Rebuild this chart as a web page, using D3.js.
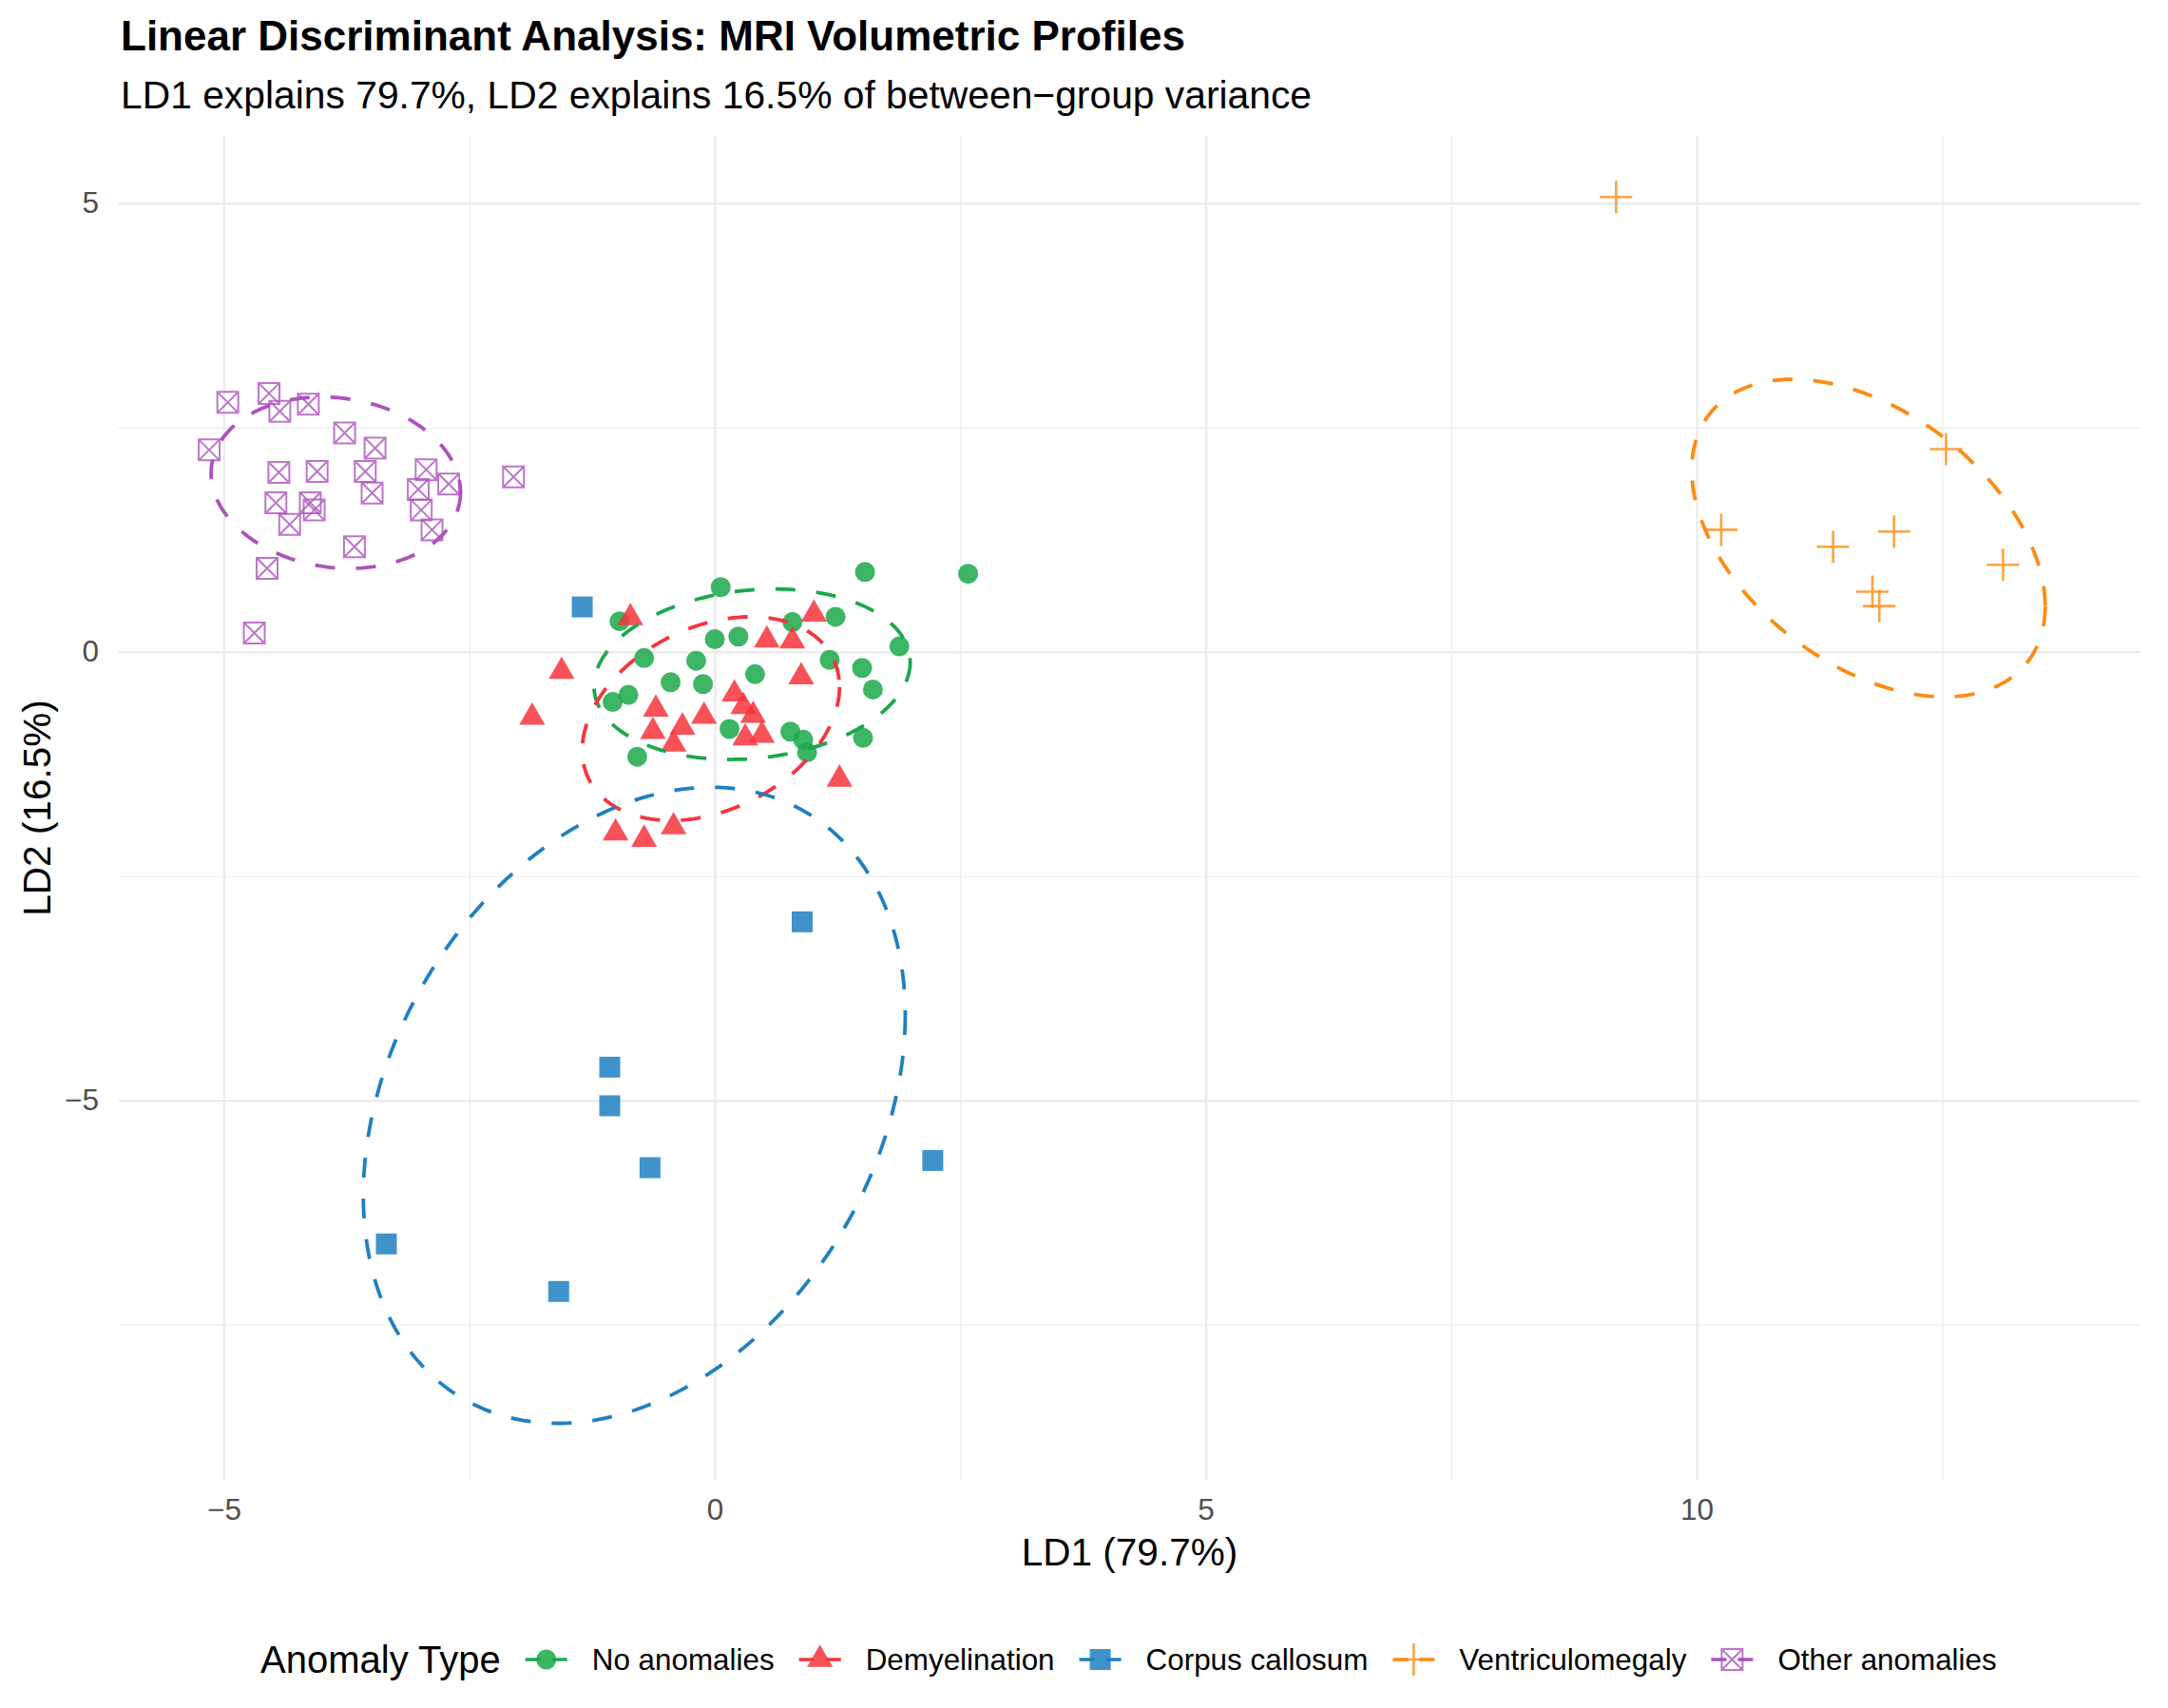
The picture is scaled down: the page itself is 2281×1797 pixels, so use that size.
<!DOCTYPE html>
<html>
<head>
<meta charset="utf-8">
<script src="https://cdn.jsdelivr.net/npm/d3@7"></script>
<style>
  body { margin: 0; background: #fff; }
  text { font-family: "Liberation Sans", Arial, Helvetica, sans-serif; }
</style>
</head>
<body>
<div id="chart"></div>
<script>
// groups, in legend order
const groups = ["No anomalies", "Demyelination", "Corpus callosum", "Ventriculomegaly", "Other anomalies"];
const groupColors = ["#1aa84a", "#f7333b", "#1f80c1", "#ff8a12", "#ac52bc"];

// LD1 / LD2 scores
const noAnomalies = [
  [1.53, 0.89], [2.58, 0.87], [0.06, 0.72], [-0.97, 0.34], [0.79, 0.33], [1.23, 0.39],
  [0.0, 0.14], [0.24, 0.17], [-0.72, -0.07], [-0.19, -0.10], [1.88, 0.06], [1.17, -0.09],
  [1.5, -0.18], [0.41, -0.25], [-0.45, -0.34], [-0.12, -0.36], [1.61, -0.42], [-0.88, -0.48],
  [-1.04, -0.56], [0.15, -0.86], [0.77, -0.89], [0.9, -0.98], [0.94, -1.12], [1.51, -0.96],
  [-0.79, -1.17]
];
const demyelination = [
  [-0.86, 0.38], [1.01, 0.42], [0.53, 0.13], [0.79, 0.12], [-1.56, -0.22], [0.88, -0.28],
  [-1.86, -0.73], [-0.6, -0.64], [0.2, -0.47], [0.29, -0.61], [-0.11, -0.72], [-0.63, -0.89],
  [-0.33, -0.84], [-0.42, -1.03], [0.31, -0.96], [0.48, -0.93], [0.39, -0.71], [1.27, -1.42],
  [-1.01, -2.02], [-0.72, -2.09], [-0.42, -1.95]
];
const corpusCallosum = [
  [-1.35, 0.5], [0.89, -3.01], [-1.07, -4.63], [-1.07, -5.06], [-0.66, -5.75], [2.22, -5.67],
  [-3.345, -6.6], [-1.59, -7.13]
];
const ventriculomegaly = [
  [9.18, 5.07], [12.54, 2.26], [10.25, 1.36], [11.39, 1.17], [12.01, 1.34], [13.12, 0.97],
  [11.79, 0.67], [11.86, 0.51]
];
const otherAnomalies = [
  [-4.96, 2.78], [-4.54, 2.88], [-4.43, 2.68], [-4.14, 2.76], [-5.15, 2.25], [-3.77, 2.44],
  [-3.46, 2.27], [-4.44, 2.0], [-4.05, 2.01], [-3.56, 2.01], [-2.94, 2.03], [-3.02, 1.81],
  [-2.71, 1.87], [-3.49, 1.77], [-4.47, 1.66], [-4.12, 1.66], [-4.08, 1.58], [-4.33, 1.42],
  [-2.99, 1.58], [-2.88, 1.36], [-3.67, 1.17], [-4.56, 0.93], [-2.05, 1.95], [-4.69, 0.21]
];
const groupPoints = [noAnomalies, demyelination, corpusCallosum, ventriculomegaly, otherAnomalies];

// 95% ellipses: centre, half extent on each axis, and cos of the phase between them
const ellipseCx = [0.38, -0.04, -0.82, 11.75, -3.86];
const ellipseCy = [-0.25, -0.745, -5.055, 1.2675, 1.885];
const ellipseHx = [1.61, 1.31, 2.76, 1.8, 1.27];
const ellipseHy = [0.95, 1.135, 3.545, 1.77, 0.955];
const ellipseCos = [0.14, 0.31, 0.284, -0.43, -0.11];

// axes
const xLimits = [-6.07, 14.52];
const yLimits = [-9.23, 5.75];
const xMajorTicks = [-5, 0, 5, 10];
const xMinorTicks = [-2.5, 2.5, 7.5, 12.5];
const yMajorTicks = [-5, 0, 5];
const yMinorTicks = [-7.5, -2.5, 2.5];

const W = 2281, H = 1797;
const panel = { left: 125, right: 2252, top: 143, bottom: 1557 };
const dash = "21,22";

const svg = d3.select("#chart").append("svg")
  .attr("width", W)
  .attr("height", H);

svg.append("rect").attr("width", W).attr("height", H).attr("fill", "#fff");

const x = d3.scaleLinear().domain(xLimits).range([panel.left, panel.right]);
const y = d3.scaleLinear().domain(yLimits).range([panel.bottom, panel.top]);

// grid
function grid(axis, ticks, width, transform) {
  const g = svg.append("g")
    .attr("transform", transform)
    .call(axis.tickValues(ticks).tickFormat(""));
  g.select(".domain").remove();
  g.selectAll("line").attr("stroke", "#ebebeb").attr("stroke-width", width);
}
const ph = panel.bottom - panel.top, pw = panel.right - panel.left;
grid(d3.axisBottom(x).tickSize(-ph), xMinorTicks, 1.2, `translate(0,${panel.bottom})`);
grid(d3.axisLeft(y).tickSize(-pw), yMinorTicks, 1.2, `translate(${panel.left},0)`);
grid(d3.axisBottom(x).tickSize(-ph), xMajorTicks, 2.4, `translate(0,${panel.bottom})`);
grid(d3.axisLeft(y).tickSize(-pw), yMajorTicks, 2.4, `translate(${panel.left},0)`);

// tick labels
const xAxis = svg.append("g")
  .attr("transform", `translate(0,${panel.bottom})`)
  .call(d3.axisBottom(x).tickValues(xMajorTicks).tickSize(0).tickPadding(20));
const yAxis = svg.append("g")
  .attr("transform", `translate(${panel.left},0)`)
  .call(d3.axisLeft(y).tickValues(yMajorTicks).tickSize(0).tickPadding(21));
[xAxis, yAxis].forEach(a => {
  a.select(".domain").remove();
  a.selectAll("text")
    .attr("fill", "#4d4d4d")
    .style("font-size", "31.5px")
    .style("font-family", '"Liberation Sans", Arial, sans-serif');
});

// marker shapes
function markerPath(i) {
  if (i === 0) return d3.symbol(d3.symbolCircle, Math.PI * 10.5 * 10.5)();
  if (i === 1) return d3.symbol(d3.symbolTriangle, 320)();
  if (i === 2) return d3.symbol(d3.symbolSquare, 22 * 22)();
  if (i === 3) return "M-17,0H17M0,-17V17";
  return "M-11,-11H11V11H-11ZM-11,-11L11,11M11,-11L-11,11";
}
function styleMarker(sel, i) {
  const c = groupColors[i];
  if (i < 3) {
    sel.attr("fill", c).attr("fill-opacity", 0.85).attr("stroke", "none");
  } else {
    sel.attr("fill", "none").attr("stroke", c).attr("stroke-opacity", 0.8)
      .attr("stroke-width", i === 3 ? 2.6 : 2);
  }
}

// points
groupPoints.forEach((pts, i) => {
  svg.append("g").selectAll("path")
    .data(pts)
    .enter().append("path")
    .attr("d", markerPath(i))
    .attr("transform", d => `translate(${x(d[0])},${y(d[1])})`)
    .call(styleMarker, i);
});

// ellipses
const ellipseLine = d3.line()
  .x(d => x(d[0]))
  .y(d => y(d[1]))
  .curve(d3.curveLinearClosed);
const angles = d3.range(0, 2 * Math.PI, Math.PI / 90);
groups.forEach((name, i) => {
  const delta = Math.acos(ellipseCos[i]);
  const pts = angles.map(t => [
    ellipseCx[i] + ellipseHx[i] * Math.cos(t),
    ellipseCy[i] + ellipseHy[i] * Math.cos(t + delta)
  ]);
  svg.append("path")
    .attr("d", ellipseLine(pts))
    .attr("fill", "none")
    .attr("stroke", groupColors[i])
    .attr("stroke-width", 3.8)
    .attr("stroke-dasharray", dash);
});

// titles
svg.append("text")
  .attr("x", 127).attr("y", 53)
  .style("font-size", "44px").style("font-weight", "bold")
  .text("Linear Discriminant Analysis: MRI Volumetric Profiles");
svg.append("text")
  .attr("x", 127).attr("y", 114)
  .style("font-size", "40.8px")
  .text("LD1 explains 79.7%, LD2 explains 16.5% of between\u2212group variance");
svg.append("text")
  .attr("x", (panel.left + panel.right) / 2).attr("y", 1647)
  .attr("text-anchor", "middle")
  .style("font-size", "40.5px")
  .text("LD1 (79.7%)");
svg.append("text")
  .attr("transform", `translate(53,${(panel.top + panel.bottom) / 2}) rotate(-90)`)
  .attr("text-anchor", "middle")
  .style("font-size", "40.5px")
  .text("LD2 (16.5%)");

// legend
const legendY = 1746;
const legend = svg.append("g");
const legendTitle = legend.append("text")
  .attr("x", 274).attr("y", legendY + 14)
  .style("font-size", "40px")
  .text("Anomaly Type");
let cursor = 274 + legendTitle.node().getComputedTextLength();
groups.forEach((name, i) => {
  const kc = cursor + 48;
  legend.append("line")
    .attr("x1", kc - 22).attr("x2", kc + 22)
    .attr("y1", legendY).attr("y2", legendY)
    .attr("stroke", groupColors[i])
    .attr("stroke-width", 3.6)
    .attr("stroke-dasharray", "16,12");
  legend.append("path")
    .attr("d", markerPath(i))
    .attr("transform", `translate(${kc},${legendY})`)
    .call(styleMarker, i);
  const label = legend.append("text")
    .attr("x", kc + 48).attr("y", legendY + 11)
    .style("font-size", "31.4px")
    .text(name);
  cursor = kc + 48 + label.node().getComputedTextLength();
});
</script>
</body>
</html>
